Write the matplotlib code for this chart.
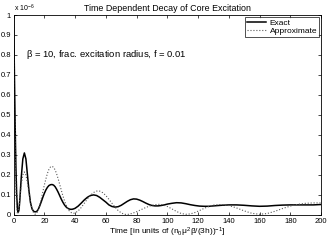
import matplotlib
matplotlib.use("Agg")
import matplotlib.pyplot as plt

plt.rcParams['font.family'] = ['Liberation Sans', 'DejaVu Sans']
plt.rcParams['mathtext.fontset'] = 'custom'
plt.rcParams['mathtext.rm'] = 'Liberation Sans'
plt.rcParams['mathtext.it'] = 'Liberation Sans'

# values in units of 1e-6
t_exact = [0, 0.5, 1, 1.5, 2, 2.5, 3, 3.5, 4, 5, 6, 7, 8, 9, 10, 11, 12, 13, 14, 15,
           16, 17, 18, 19, 20, 21, 22, 23, 24, 25, 26, 27, 28, 29, 30, 31, 32, 33, 34,
           35, 36, 37, 38, 39, 40, 42, 44, 46, 48, 50, 52, 54, 56, 58, 60, 62, 64, 66,
           68, 70, 72, 74, 76, 78, 80, 82, 84, 86, 88, 90, 92, 94, 96, 98, 100, 103,
           106, 109, 112, 115, 118, 121, 124, 127, 130, 135, 140, 145, 150, 155, 160,
           165, 170, 175, 180, 185, 190, 195, 200]
exact = [1.0, 0.72, 0.45, 0.24, 0.1, 0.03, 0.012, 0.025, 0.07, 0.19, 0.28, 0.31, 0.28,
         0.2, 0.12, 0.06, 0.03, 0.018, 0.015, 0.017, 0.027, 0.045, 0.066, 0.088, 0.108,
         0.125, 0.138, 0.147, 0.151, 0.152, 0.149, 0.141, 0.128, 0.113, 0.096, 0.079,
         0.064, 0.051, 0.041, 0.034, 0.03, 0.028, 0.028, 0.03, 0.033, 0.044, 0.059,
         0.075, 0.088, 0.097, 0.1, 0.097, 0.088, 0.076, 0.064, 0.05, 0.042, 0.039,
         0.041, 0.048, 0.058, 0.068, 0.076, 0.08, 0.079, 0.074, 0.067, 0.059, 0.052,
         0.047, 0.045, 0.045, 0.047, 0.05, 0.054, 0.058, 0.061, 0.06, 0.056, 0.051,
         0.047, 0.044, 0.043, 0.043, 0.045, 0.048, 0.05, 0.05, 0.048, 0.045, 0.043,
         0.044, 0.047, 0.049, 0.05, 0.05, 0.05, 0.05, 0.052]

t_approx = [0, 0.5, 1, 1.5, 2, 2.5, 3, 3.5, 4, 5, 6, 7, 8, 9, 10, 11, 12, 13, 14, 15,
            16, 17, 18, 19, 20, 21, 22, 23, 24, 25, 26, 27, 28, 29, 30, 31, 32, 33, 34,
            35, 36, 37, 38, 39, 40, 42, 44, 46, 48, 50, 52, 54, 55, 56, 58, 60, 62, 64,
            66, 68, 70, 72, 74, 76, 78, 80, 82, 84, 86, 88, 90, 92, 94, 96, 98, 100,
            103, 106, 109, 112, 115, 118, 121, 124, 127, 130, 135, 140, 145, 150, 155,
            160, 165, 170, 175, 180, 185, 190, 195, 200]
approx = [1.0, 0.62, 0.32, 0.12, 0.03, 0.005, 0.01, 0.04, 0.08, 0.15, 0.2, 0.215, 0.2,
          0.16, 0.11, 0.065, 0.03, 0.01, 0.003, 0.008, 0.025, 0.05, 0.08, 0.115, 0.15,
          0.18, 0.208, 0.228, 0.24, 0.243, 0.238, 0.225, 0.205, 0.18, 0.152, 0.124,
          0.097, 0.073, 0.052, 0.035, 0.022, 0.014, 0.009, 0.008, 0.01, 0.02, 0.037,
          0.058, 0.08, 0.098, 0.112, 0.119, 0.12, 0.119, 0.111, 0.097, 0.078, 0.058,
          0.039, 0.022, 0.01, 0.003, 0.002, 0.005, 0.01, 0.016, 0.023, 0.03, 0.037,
          0.043, 0.048, 0.051, 0.053, 0.052, 0.048, 0.042, 0.03, 0.017, 0.007, 0.003,
          0.005, 0.012, 0.022, 0.033, 0.042, 0.049, 0.052, 0.047, 0.035, 0.02, 0.008,
          0.003, 0.007, 0.018, 0.032, 0.044, 0.053, 0.058, 0.06, 0.06]

x_ticks = [0, 20, 40, 60, 80, 100, 120, 140, 160, 180, 200]
y_ticks = [0, 0.1, 0.2, 0.3, 0.4, 0.5, 0.6, 0.7, 0.8, 0.9, 1]
y_ticklabels = ['0', '0.1', '0.2', '0.3', '0.4', '0.5', '0.6', '0.7', '0.8', '0.9', '1']

fig = plt.figure(figsize=(3.32, 2.42), dpi=100)
ax = fig.add_axes([0.041, 0.112, 0.926, 0.826])

ax.plot(t_exact, exact, color='black', lw=1.1, label='Exact')
ax.plot(t_approx, approx, color='0.35', lw=0.8, ls=':', label='Approximate')

ax.set_xlim(0, 200)
ax.set_ylim(0, 1)
ax.set_xticks(x_ticks)
ax.set_yticks(y_ticks)
ax.set_yticklabels(y_ticklabels)
ax.tick_params(direction='in', length=2.5, width=0.5, labelsize=5.5, pad=2,
               top=True, right=True)
for s in ax.spines.values():
    s.set_linewidth(0.6)

ax.set_title('Time Dependent Decay of Core Excitation', fontsize=6.4, pad=3)
ax.set_xlabel(r'Time [in units of (n$_0$$\mu^2\beta$/(3h))$^{-1}$]', fontsize=6, labelpad=1)
ax.text(0.0, 1.005, r'x 10$^{-6}$', transform=ax.transAxes, fontsize=5, va='bottom', ha='left')
ax.text(8, 0.8, r'$\beta$ = 10, frac. excitation radius, f = 0.01', fontsize=6.8, va='center')

leg = ax.legend(loc='upper right', fontsize=6, frameon=True, fancybox=False,
                borderpad=0.25, handlelength=2.2, handletextpad=0.5, labelspacing=0.05,
                borderaxespad=0.2)
leg.get_frame().set_edgecolor('black')
leg.get_frame().set_linewidth(0.6)

fig.savefig('out.png', dpi=100)
